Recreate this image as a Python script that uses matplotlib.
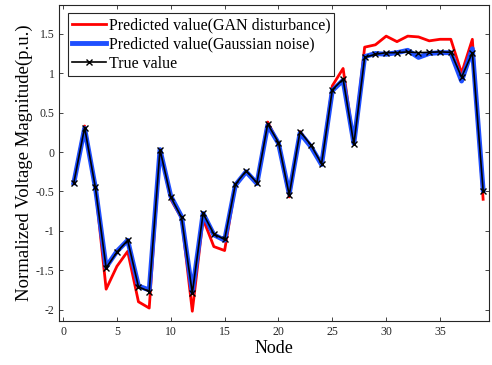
import numpy as np
import matplotlib
matplotlib.use('Agg')
import matplotlib.pyplot as plt

plt.rcParams['font.family'] = ['Liberation Serif', 'DejaVu Serif']
plt.rcParams['axes.unicode_minus'] = False

nodes = np.arange(1, 40)
true_value = [-0.39, 0.31, -0.45, -1.47, -1.27, -1.12, -1.71, -1.77, 0.03, -0.57,
              -0.83, -1.79, -0.78, -1.04, -1.11, -0.41, -0.24, -0.39, 0.355, 0.12,
              -0.545, 0.26, 0.09, -0.15, 0.79, 0.925, 0.10, 1.20, 1.24, 1.26,
              1.26, 1.27, 1.26, 1.265, 1.27, 1.265, 0.95, 1.26, -0.49]
gaussian = [-0.39, 0.30, -0.45, -1.46, -1.26, -1.12, -1.70, -1.75, 0.03, -0.56,
            -0.82, -1.78, -0.78, -1.05, -1.12, -0.42, -0.25, -0.40, 0.34, 0.11,
            -0.53, 0.24, 0.07, -0.16, 0.78, 0.91, 0.11, 1.21, 1.25, 1.24,
            1.26, 1.29, 1.20, 1.25, 1.26, 1.26, 0.90, 1.31, -0.48]
gan = [-0.37, 0.33, -0.45, -1.74, -1.45, -1.26, -1.90, -1.98, 0.03, -0.60,
       -0.84, -2.02, -0.85, -1.20, -1.25, -0.43, -0.25, -0.40, 0.38, 0.11,
       -0.57, 0.26, 0.08, -0.15, 0.84, 1.06, 0.10, 1.33, 1.36, 1.47,
       1.40, 1.47, 1.46, 1.41, 1.43, 1.43, 1.00, 1.43, -0.60]

fig = plt.figure(figsize=(4.92, 3.65), dpi=100)
ax = fig.add_axes([0.1205, 0.1214, 0.8735, 0.866])

ax.plot(nodes, gan, color='#ff0000', lw=2.0, label='Predicted value(GAN disturbance)')
ax.plot(nodes, gaussian, color='#1f4fff', lw=3.5, label='Predicted value(Gaussian noise)')
ax.plot(nodes, true_value, color='black', lw=1.2, marker='x', ms=5, mew=1.0,
        label='True value')

ax.set_xlim(-0.35, 39.55)
ax.set_ylim(-2.14, 1.87)
ax.set_xticks([0, 5, 10, 15, 20, 25, 30, 35])
ax.set_yticks([-2, -1.5, -1, -0.5, 0, 0.5, 1, 1.5])
ax.set_yticklabels(['-2', '-1.5', '-1', '-0.5', '0', '0.5', '1', '1.5'])
ax.tick_params(direction='in', top=True, right=True, labelsize=8.5,
               length=3, width=0.6, color='#262626', labelcolor='#262626')
for s in ax.spines.values():
    s.set_color('#262626')
    s.set_linewidth(0.8)

ax.set_xlabel('Node', fontsize=13, labelpad=2)
ax.set_ylabel('Normalized Voltage Magnitude(p.u.)', fontsize=13.5, labelpad=2)

leg = ax.legend(loc='upper left', fontsize=11.5, frameon=True, fancybox=False,
                edgecolor='#262626', framealpha=1, borderpad=0.25,
                labelspacing=0.2, handlelength=2.1, handletextpad=0.2,
                borderaxespad=0.55)
leg.get_frame().set_linewidth(0.8)

fig.savefig('out.png', dpi=100)
